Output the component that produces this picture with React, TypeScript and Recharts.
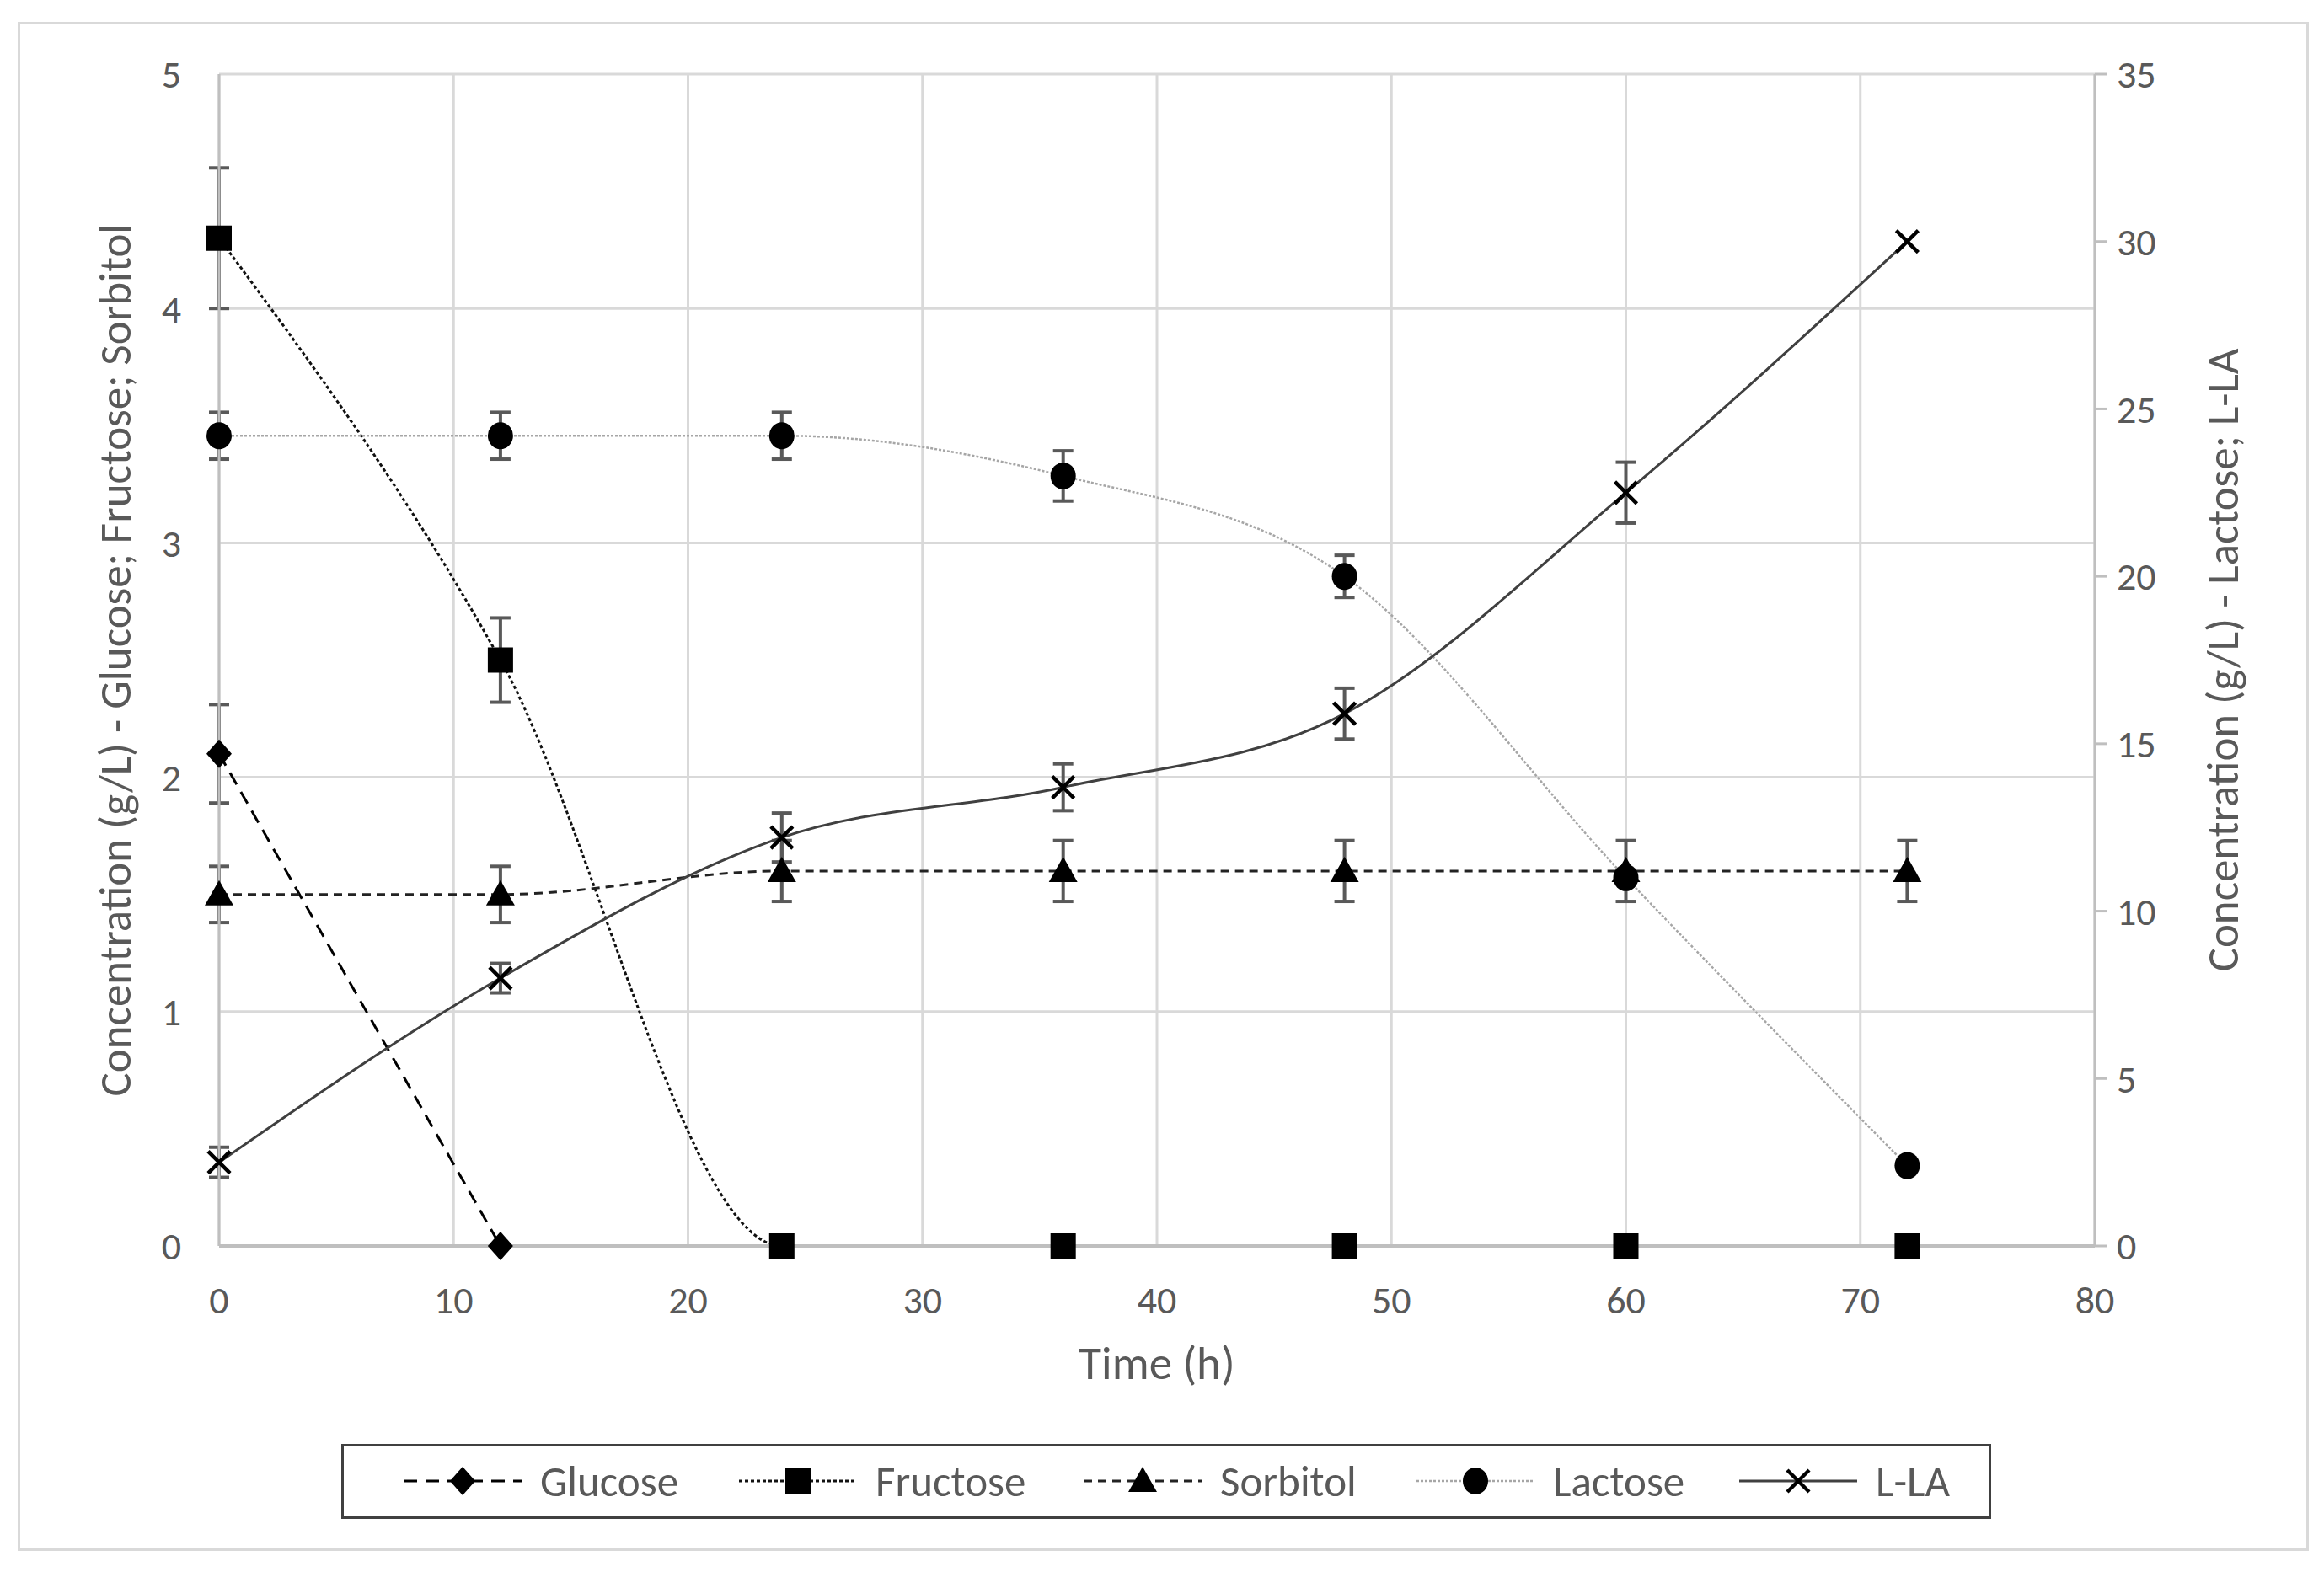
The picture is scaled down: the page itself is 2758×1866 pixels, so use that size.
import { LineChart, Line, XAxis, YAxis, CartesianGrid, ErrorBar } from "recharts";

// sampling times (h)
const times = [0, 12, 24, 36, 48, 60, 72];
const glucoseTimes = [0, 12];

// left axis (g/L)
const glucose = [2.1, 0];
const glucoseSd = [0.21, 0];
const fructose = [4.3, 2.5, 0, 0, 0, 0, 0];
const fructoseSd = [0.3, 0.18, 0, 0, 0, 0, 0];
const sorbitol = [1.5, 1.5, 1.6, 1.6, 1.6, 1.6, 1.6];
const sorbitolSd = [0.12, 0.12, 0.13, 0.13, 0.13, 0.13, 0.13];

// right axis (g/L)
const lactose = [24.2, 24.2, 24.2, 23.0, 20.0, 11.0, 2.4];
const lactoseSd = [0.7, 0.7, 0.7, 0.75, 0.63, 0, 0];
const lla = [2.5, 8.0, 12.2, 13.7, 15.9, 22.5, 30.0];
const llaSd = [0.45, 0.44, 0.73, 0.7, 0.76, 0.91, 0];

const xTicks = [0, 10, 20, 30, 40, 50, 60, 70, 80];
const leftTicks = [0, 1, 2, 3, 4, 5];
const rightTicks = [0, 5, 10, 15, 20, 25, 30, 35];

const FONT = "Carlito, Lato, sans-serif";
const TEXT = "#595959";
const GRID = "#d9d9d9";
const AXIS = "#bfbfbf";

const toRows = (ts: number[], vals: number[], sds: number[]) =>
    ts.map((t, i) => ({ t, v: vals[i], sd: sds[i] }));

type Shape = "diamond" | "square" | "triangle" | "circle" | "x";

function Marker({ shape, cx, cy }: { shape: Shape; cx: number; cy: number }) {
    if (cx == null || cy == null) return null;
    switch (shape) {
        case "diamond":
            return <polygon points={`${cx},${cy - 17} ${cx + 15},${cy} ${cx},${cy + 17} ${cx - 15},${cy}`} fill="#000" />;
        case "square":
            return <rect x={cx - 15} y={cy - 15} width={30} height={30} fill="#000" />;
        case "triangle":
            return <polygon points={`${cx},${cy - 17} ${cx + 17},${cy + 13} ${cx - 17},${cy + 13}`} fill="#000" />;
        case "circle":
            return <ellipse cx={cx} cy={cy} rx={15} ry={16} fill="#000" />;
        default:
            return (
                <g stroke="#000" strokeWidth={4.5}>
                    <line x1={cx - 13} y1={cy - 13} x2={cx + 13} y2={cy + 13} />
                    <line x1={cx - 13} y1={cy + 13} x2={cx + 13} y2={cy - 13} />
                </g>
            );
    }
}

const series = [
    { name: "Glucose", data: toRows(glucoseTimes, glucose, glucoseSd), axis: 0, shape: "diamond" as Shape, stroke: "#000", dash: "16 10", width: 3 },
    { name: "Fructose", data: toRows(times, fructose, fructoseSd), axis: 0, shape: "square" as Shape, stroke: "#111", dash: "4 3", width: 3 },
    { name: "Sorbitol", data: toRows(times, sorbitol, sorbitolSd), axis: 0, shape: "triangle" as Shape, stroke: "#222", dash: "10 7", width: 3 },
    { name: "Lactose", data: toRows(times, lactose, lactoseSd), axis: "right", shape: "circle" as Shape, stroke: "#a6a6a6", dash: "3 2", width: 2.5 },
    { name: "L-LA", data: toRows(times, lla, llaSd), axis: "right", shape: "x" as Shape, stroke: "#404040", dash: undefined, width: 3 },
];

// legend item offsets inside the legend box
const legendX = [74, 472, 881, 1276, 1659];

function LeftTitle(props: any) {
    const vb = props.viewBox;
    const x = vb.x + vb.width - 123;
    const y = vb.y + vb.height / 2;
    return (
        <text x={x} y={y} transform={`rotate(-90 ${x} ${y})`} textAnchor="middle" dominantBaseline="central" fill={TEXT} fontSize={53}>
            Concentration (g/L) - Glucose; Fructose; Sorbitol
        </text>
    );
}

function RightTitle(props: any) {
    const vb = props.viewBox;
    const x = vb.x + 152;
    const y = vb.y + vb.height / 2;
    return (
        <text x={x} y={y} transform={`rotate(-90 ${x} ${y})`} textAnchor="middle" dominantBaseline="central" fill={TEXT} fontSize={53}>
            Concentration (g/L) - Lactose; L-LA
        </text>
    );
}

function XTitle(props: any) {
    const vb = props.viewBox;
    return (
        <text x={vb.x + vb.width / 2} y={vb.y + 139} textAnchor="middle" dominantBaseline="central" fill={TEXT} fontSize={55}>
            Time (h)
        </text>
    );
}

function ChartLegend() {
    return (
        <svg width={1958} height={89} style={{ position: "absolute", left: 405, top: 1714 }}>
            <rect x={1.5} y={1.5} width={1955} height={86} fill="#fff" stroke="#404040" strokeWidth={3} />
            {series.map((s, i) => {
                const x0 = legendX[i];
                return (
                    <g key={s.name}>
                        <line x1={x0} y1={44} x2={x0 + 140} y2={44} stroke={s.stroke} strokeWidth={s.width} strokeDasharray={s.dash} />
                        <Marker shape={s.shape} cx={x0 + 70} cy={44} />
                        <text x={x0 + 162} y={44} dominantBaseline="central" fill={TEXT} fontSize={51}>
                            {s.name}
                        </text>
                    </g>
                );
            })}
        </svg>
    );
}

export default function App() {
    return (
        <div style={{ position: "absolute", left: 0, top: 0, width: 2758, height: 1866, background: "#fff", fontFamily: FONT }}>
            <div style={{ position: "absolute", left: 21, top: 26, width: 2713, height: 1809, border: `3px solid ${GRID}` }} />
            <div style={{ position: "absolute", left: 0, top: 0 }}>
                <LineChart width={2758} height={1866} margin={{ top: 88, right: 72, bottom: 217, left: 60 }}>
                    <CartesianGrid stroke={GRID} strokeWidth={3} />
                    <XAxis
                        dataKey="t"
                        type="number"
                        domain={[0, 80]}
                        ticks={xTicks}
                        height={170}
                        axisLine={{ stroke: AXIS, strokeWidth: 4 }}
                        tickLine={false}
                        tickSize={0}
                        tickMargin={47}
                        tick={{ fontSize: 46, fill: TEXT }}
                        label={<XTitle />}
                        allowDuplicatedCategory={false}
                    />
                    <YAxis
                        domain={[0, 5]}
                        ticks={leftTicks}
                        width={200}
                        axisLine={{ stroke: AXIS, strokeWidth: 3 }}
                        tickLine={false}
                        tickSize={0}
                        tickMargin={45}
                        tick={{ fontSize: 46, fill: TEXT }}
                        label={<LeftTitle />}
                    />
                    <YAxis
                        yAxisId="right"
                        orientation="right"
                        domain={[0, 35]}
                        ticks={rightTicks}
                        width={200}
                        axisLine={{ stroke: AXIS, strokeWidth: 3 }}
                        tickLine={{ stroke: AXIS, strokeWidth: 3 }}
                        tickSize={15}
                        tickMargin={11}
                        tick={{ fontSize: 46, fill: TEXT }}
                        label={<RightTitle />}
                    />
                    {series.map((s) => (
                        <Line
                            key={s.name}
                            name={s.name}
                            data={s.data}
                            dataKey="v"
                            yAxisId={s.axis}
                            type="monotone"
                            stroke={s.stroke}
                            strokeWidth={s.width}
                            strokeDasharray={s.dash}
                            isAnimationActive={false}
                            activeDot={false}
                            dot={(p: any) => <Marker key={`${s.name}-${p.index}`} shape={s.shape} cx={p.cx} cy={p.cy} />}
                        >
                            <ErrorBar dataKey="sd" direction="y" width={12} stroke="#595959" strokeWidth={4} isAnimationActive={false} />
                        </Line>
                    ))}
                </LineChart>
            </div>
            <ChartLegend />
        </div>
    );
}
